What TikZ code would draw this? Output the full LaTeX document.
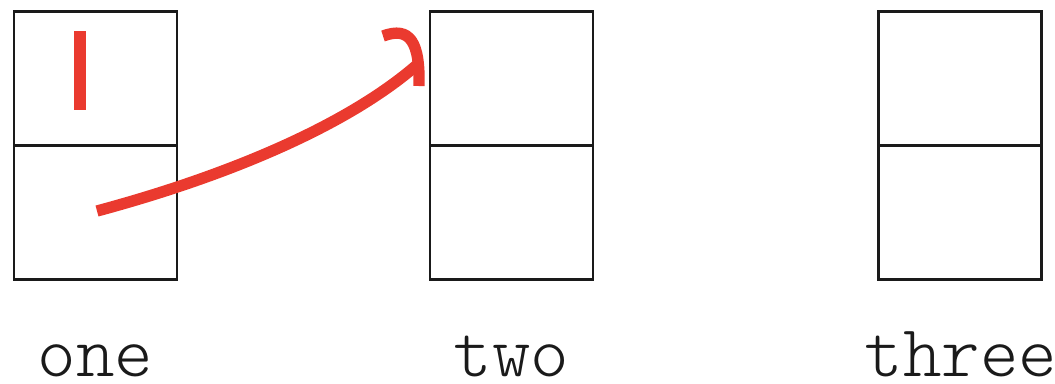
\documentclass[tikz,border=0pt]{standalone}
\usepackage{fontspec}
\usetikzlibrary{positioning,calc}
\newfontfamily\lblfont{Latin Modern Mono Light}
\definecolor{inkline}{HTML}{1A1A1A}
\definecolor{mkred}{HTML}{EA3A2F}
\tikzset{
  cellbox/.style={draw=inkline, line width=2.2pt, minimum width=122.25pt,
                  minimum height=100.5pt, outer sep=0pt, inner sep=0pt},
  boxlbl/.style={font=\lblfont\fontsize{55}{58}\selectfont, text=inkline,
                 anchor=base, inner sep=0pt, text depth=0pt},
  redmark/.style={draw=mkred, line width=8.5pt},
  redarr/.style={draw=mkred, line width=8.5pt}}
\begin{document}
\begin{tikzpicture}[x=0.75pt,y=-0.75pt]
  \useasboundingbox (0,0) rectangle (1055,383);
  % the three boxes, each two cells high
  \node[cellbox] (onetop) at (95.5,78.5) {};
  \node[cellbox, below=0pt of onetop] (onebot) {};
  \node[cellbox] (twotop) at (511.5,78.5) {};
  \node[cellbox, below=0pt of twotop] (twobot) {};
  \node[cellbox] (threetop) at (960,78.5) {};
  \node[cellbox, below=0pt of threetop] (threebot) {};
  % names under the boxes
  \node[boxlbl] (onelbl) at (95.5,376) {one};
  \node[boxlbl] (twolbl) at (511.5,376) {two};
  \node[boxlbl] (threelbl) at (961,376) {three};
  % red mark and the move
  \draw[redmark] (80,31) -- (80,110);
  \coordinate (start) at (97,211);
  \coordinate (hit) at (418,64);
  \draw[redarr] (start) .. controls (220,178) and (345,128) .. (hit);
  \draw[redarr] (419,86) .. controls (420,42) and (410,26) .. (383,36);
\end{tikzpicture}
\end{document}
